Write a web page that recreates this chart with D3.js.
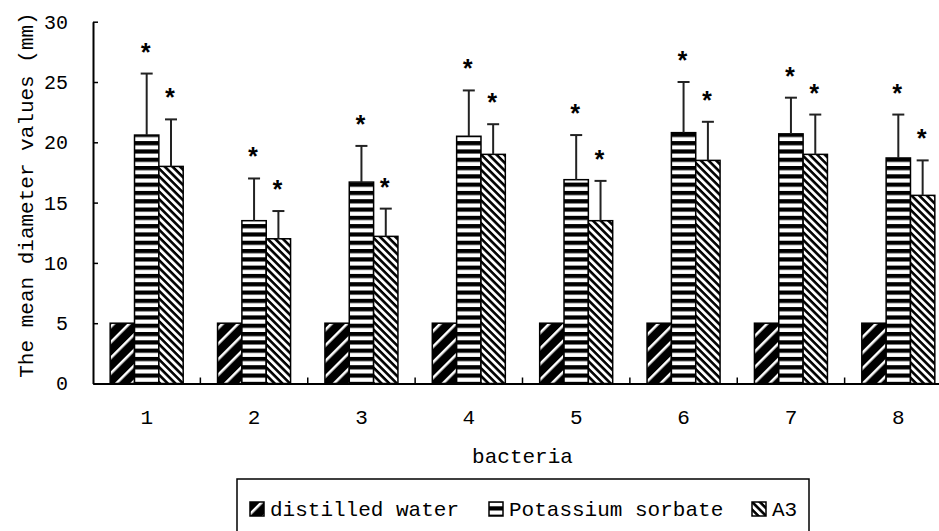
<!DOCTYPE html>
<html>
<head>
<meta charset="utf-8">
<script src="https://cdn.jsdelivr.net/npm/d3@7"></script>
<style>
  body { margin: 0; background: #fff; }
  svg { display: block; }
  text { font-family: "Liberation Mono", "DejaVu Sans Mono", monospace; fill: #000; }
</style>
</head>
<body>
<script>
var bacteria = ["1", "2", "3", "4", "5", "6", "7", "8"];
var seriesNames = ["distilled water", "Potassium sorbate", "A3"];
var distilledValues = [5, 5, 5, 5, 5, 5, 5, 5];
var potassiumValues = [20.6, 13.5, 16.7, 20.5, 16.9, 20.8, 20.7, 18.7];
var potassiumErrors = [5.1, 3.5, 3.0, 3.8, 3.7, 4.2, 3.0, 3.6];
var a3Values = [18.0, 12.0, 12.2, 19.0, 13.5, 18.5, 19.0, 15.6];
var a3Errors = [3.9, 2.3, 2.3, 2.5, 3.3, 3.2, 3.3, 2.9];
var yTicks = [0, 5, 10, 15, 20, 25, 30];

var width = 939,
    height = 531;

var svg = d3.select("body").append("svg")
    .attr("width", width)
    .attr("height", height);

// hatch patterns, one per series
var defs = svg.append("defs");
function stripes(id, period, ink, angle, inkColor, bgColor) {
    var p = defs.append("pattern")
        .attr("id", id)
        .attr("patternUnits", "userSpaceOnUse")
        .attr("width", 20)
        .attr("height", period)
        .attr("patternTransform", "rotate(" + angle + ")");
    p.append("rect").attr("width", 20).attr("height", period).attr("fill", bgColor);
    p.append("rect").attr("y", 0).attr("width", 20).attr("height", ink).attr("fill", inkColor);
}
stripes("pat0", 11, 2.6, -45, "#fff", "#000");
stripes("pat1", 8.3, 4.2, 0, "#000", "#fff");
stripes("pat2", 5.4, 2.6, 45, "#000", "#fff");

var x0 = d3.scaleBand()
    .domain(bacteria)
    .range([93, 952])
    .paddingInner(0)
    .paddingOuter(0);

var bw = x0.bandwidth();
var x1 = d3.scaleBand()
    .domain(seriesNames)
    .range([bw * 0.16, bw * 0.84])
    .padding(0);

var y = d3.scaleLinear()
    .domain([0, 30])
    .range([383.5, 21.7]);

var rows = bacteria.map(function (b, i) {
    return [
        { key: seriesNames[0], b: b, v: distilledValues[i], e: null, pat: "pat0" },
        { key: seriesNames[1], b: b, v: potassiumValues[i], e: potassiumErrors[i], pat: "pat1" },
        { key: seriesNames[2], b: b, v: a3Values[i], e: a3Errors[i], pat: "pat2" }
    ];
});
var all = d3.merge(rows);

// bars
svg.append("g").selectAll("rect")
    .data(all)
    .enter().append("rect")
    .attr("x", function (d) { return x0(d.b) + x1(d.key); })
    .attr("y", function (d) { return y(d.v); })
    .attr("width", x1.bandwidth())
    .attr("height", function (d) { return y(0) - y(d.v); })
    .attr("fill", function (d) { return "url(#" + d.pat + ")"; })
    .attr("stroke", "#000")
    .attr("stroke-width", 1.5);

// error bars (upper only) and asterisks
var withErr = all.filter(function (d) { return d.e !== null; });
var eg = svg.append("g").attr("stroke", "#222").attr("stroke-width", 2);
withErr.forEach(function (d) {
    var cx = x0(d.b) + x1(d.key) + x1.bandwidth() / 2;
    eg.append("line")
        .attr("x1", cx).attr("x2", cx)
        .attr("y1", y(d.v)).attr("y2", y(d.v + d.e));
    eg.append("line")
        .attr("x1", cx - 6).attr("x2", cx + 6)
        .attr("y1", y(d.v + d.e)).attr("y2", y(d.v + d.e));
});
svg.append("g").selectAll("text")
    .data(withErr)
    .enter().append("text")
    .attr("x", function (d) { return x0(d.b) + x1(d.key) + x1.bandwidth() / 2 - 1; })
    .attr("y", function (d) { return y(d.v + d.e) - 12; })
    .attr("text-anchor", "middle")
    .style("font-size", "25px")
    .style("font-weight", "bold")
    .text("*");

// y axis
var yAxis = d3.axisLeft(y)
    .tickValues(yTicks)
    .tickSizeInner(-5)
    .tickSizeOuter(0)
    .tickPadding(25);
var yg = svg.append("g")
    .attr("transform", "translate(93,0)")
    .call(yAxis);
yg.select(".domain").attr("stroke", "#000").attr("stroke-width", 2);
yg.selectAll(".tick line").attr("stroke", "#000").attr("stroke-width", 1.5);
yg.selectAll(".tick text")
    .style("font-size", "20px")
    .attr("font-family", null);

// x axis with ticks between groups
var xAxis = d3.axisBottom(x0).tickSize(0).tickPadding(26);
var xg = svg.append("g")
    .attr("transform", "translate(0," + y(0) + ")")
    .call(xAxis);
xg.select(".domain").attr("stroke", "#000").attr("stroke-width", 2);
xg.selectAll(".tick text")
    .style("font-size", "21px")
    .attr("font-family", null);
xg.selectAll(".sep")
    .data(bacteria.slice(1))
    .enter().append("line")
    .attr("class", "sep")
    .attr("x1", function (d) { return x0(d); })
    .attr("x2", function (d) { return x0(d); })
    .attr("y1", 0)
    .attr("y2", -6)
    .attr("stroke", "#000")
    .attr("stroke-width", 1.5);

// axis titles
svg.append("text")
    .attr("transform", "translate(27,195) rotate(-90)")
    .attr("text-anchor", "middle")
    .attr("dominant-baseline", "central")
    .style("font-size", "21px")
    .text("The mean diameter values (mm)");
svg.append("text")
    .attr("x", (x0.range()[0] + x0.range()[1]) / 2)
    .attr("y", 463)
    .attr("text-anchor", "middle")
    .style("font-size", "21px")
    .text("bacteria");

// legend
var legend = svg.append("g");
legend.append("rect")
    .attr("x", 237).attr("y", 479)
    .attr("width", 572).attr("height", 70)
    .attr("fill", "none")
    .attr("stroke", "#000")
    .attr("stroke-width", 1.5);
var legendX = [250, 489, 752];
seriesNames.forEach(function (name, i) {
    legend.append("rect")
        .attr("x", legendX[i]).attr("y", 502)
        .attr("width", 14).attr("height", 14)
        .attr("fill", "url(#pat" + i + ")")
        .attr("stroke", "#000")
        .attr("stroke-width", 1.5);
    legend.append("text")
        .attr("x", legendX[i] + 20)
        .attr("y", 516)
        .style("font-size", "21px")
        .text(name);
});
</script>
</body>
</html>
